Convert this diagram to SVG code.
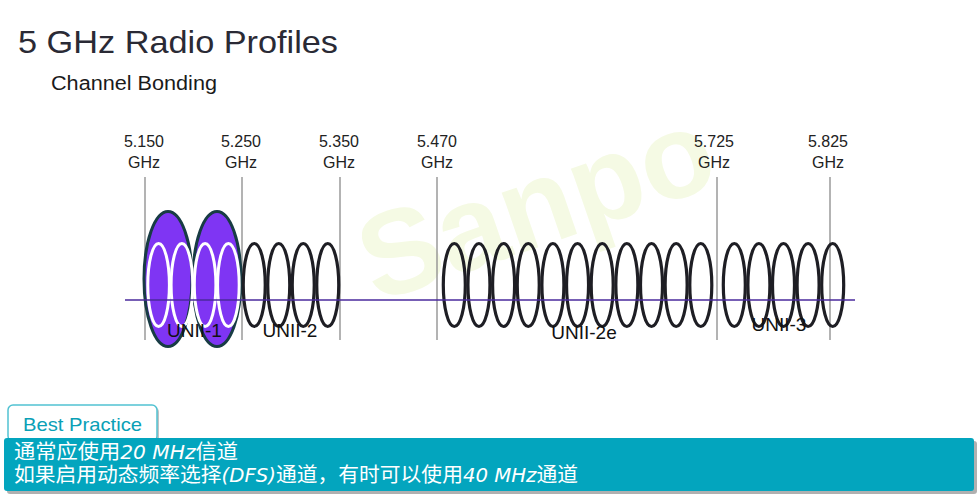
<svg xmlns="http://www.w3.org/2000/svg" width="980" height="502" viewBox="0 0 980 502">
<style>
.freq{font-family:"Liberation Sans",Arial,sans-serif;font-size:16px;fill:#222;text-anchor:middle}
.band{font-family:"Liberation Sans",Arial,sans-serif;font-size:19px;fill:#111;text-anchor:middle}
.vline{stroke:#8a8a8a;stroke-width:1.3}
.ch{fill:none;stroke:#1e1e24;stroke-width:3.2}
.chw{fill:none;stroke:#ffffff;stroke-width:3}
.big{fill:#7f35f3;stroke:#183c44;stroke-width:3}
.cn{font-family:"Liberation Sans","Noto Sans CJK SC",sans-serif;font-size:20px;fill:#ffffff}
.lat{font-family:"DejaVu Sans","Noto Sans",sans-serif;font-style:italic;font-size:19px}
</style>
<rect width="980" height="502" fill="#ffffff"/>
<text x="376" y="303" transform="rotate(-19 376 303)" font-family="Liberation Sans,Arial,sans-serif" font-weight="bold" font-size="120" fill="#f5fae4">Sanpo</text>
<g id="title">
<text x="18" y="53" font-family="Liberation Sans,Arial,sans-serif" font-size="32" fill="#2a2a35" textLength="320" lengthAdjust="spacingAndGlyphs">5 GHz Radio Profiles</text>
<text x="51" y="90" font-family="Liberation Sans,Arial,sans-serif" font-size="20" fill="#1a1a1a" textLength="166" lengthAdjust="spacingAndGlyphs">Channel Bonding</text>
</g>
<g id="connectors">
<line class="vline" x1="145" y1="177" x2="145" y2="340"/>
<line class="vline" x1="242" y1="177" x2="242" y2="340"/>
<line class="vline" x1="340" y1="177" x2="340" y2="340"/>
<line class="vline" x1="437" y1="177" x2="437" y2="340"/>
<line class="vline" x1="717" y1="177" x2="717" y2="340"/>
<line class="vline" x1="830" y1="177" x2="830" y2="340"/>
</g>
<g id="freq-labels">
<text class="freq" x="144" y="147">5.150</text><text class="freq" x="144" y="168">GHz</text>
<text class="freq" x="241" y="147">5.250</text><text class="freq" x="241" y="168">GHz</text>
<text class="freq" x="339" y="147">5.350</text><text class="freq" x="339" y="168">GHz</text>
<text class="freq" x="437" y="147">5.470</text><text class="freq" x="437" y="168">GHz</text>
<text class="freq" x="714" y="147">5.725</text><text class="freq" x="714" y="168">GHz</text>
<text class="freq" x="828" y="147">5.825</text><text class="freq" x="828" y="168">GHz</text>
</g>
<g id="unii-1">
<ellipse class="big" cx="168" cy="279" rx="24" ry="67.5"/>
<ellipse class="big" cx="217" cy="279" rx="24" ry="67.5"/>
<ellipse class="chw" cx="158.6" cy="285" rx="10.8" ry="41.5"/>
<ellipse class="chw" cx="181.9" cy="285" rx="10.8" ry="41.5"/>
<ellipse class="chw" cx="205.1" cy="285" rx="10.8" ry="41.5"/>
<ellipse class="chw" cx="228.4" cy="285" rx="10.8" ry="41.5"/>
</g>
<g id="unii-2">
<ellipse class="ch" cx="254.25" cy="285" rx="11" ry="41.5"/>
<ellipse class="ch" cx="278.75" cy="285" rx="11" ry="41.5"/>
<ellipse class="ch" cx="303.25" cy="285" rx="11" ry="41.5"/>
<ellipse class="ch" cx="327.75" cy="285" rx="11" ry="41.5"/>
</g>
<g id="unii-2e">
<ellipse class="ch" cx="454.3" cy="285" rx="11" ry="41.5"/>
<ellipse class="ch" cx="478.95" cy="285" rx="11" ry="41.5"/>
<ellipse class="ch" cx="503.6" cy="285" rx="11" ry="41.5"/>
<ellipse class="ch" cx="528.25" cy="285" rx="11" ry="41.5"/>
<ellipse class="ch" cx="552.9" cy="285" rx="11" ry="41.5"/>
<ellipse class="ch" cx="577.55" cy="285" rx="11" ry="41.5"/>
<ellipse class="ch" cx="602.2" cy="285" rx="11" ry="41.5"/>
<ellipse class="ch" cx="626.85" cy="285" rx="11" ry="41.5"/>
<ellipse class="ch" cx="651.5" cy="285" rx="11" ry="41.5"/>
<ellipse class="ch" cx="676.15" cy="285" rx="11" ry="41.5"/>
<ellipse class="ch" cx="700.8" cy="285" rx="11" ry="41.5"/>
</g>
<g id="unii-3">
<ellipse class="ch" cx="734.3" cy="285" rx="11" ry="41.5"/>
<ellipse class="ch" cx="758.9" cy="285" rx="11" ry="41.5"/>
<ellipse class="ch" cx="783.5" cy="285" rx="11" ry="41.5"/>
<ellipse class="ch" cx="808.1" cy="285" rx="11" ry="41.5"/>
<ellipse class="ch" cx="832.7" cy="285" rx="11" ry="41.5"/>
</g>
<g id="axis">
<line x1="125" y1="300" x2="855" y2="300" stroke="#4a2a9c" stroke-width="1.5"/>
</g>
<g id="band-labels">
<text class="band" x="194.5" y="337">UNII-1</text>
<text class="band" x="290" y="337">UNII-2</text>
<text class="band" x="584" y="339">UNII-2e</text>
<text class="band" x="779" y="331">UNII-3</text>
</g>
<g id="best-practice-tab">
<rect x="10" y="407" width="149" height="36" rx="5" fill="#9a9a9a" opacity="0.6"/>
<rect x="8" y="405" width="149" height="36" rx="5" fill="#ffffff" stroke="#52c2d2" stroke-width="1.5"/>
<text x="23" y="431" font-family="Liberation Sans,Arial,sans-serif" font-size="19" fill="#0aa0b6" textLength="119" lengthAdjust="spacingAndGlyphs">Best Practice</text>
</g>
<g id="best-practice-body">
<rect x="7" y="441" width="970" height="53" rx="3" fill="#8f8f8f" opacity="0.7"/>
<rect x="4" y="438" width="970" height="53" rx="3" fill="#03a5be"/>
<text class="cn" x="14" y="459" textLength="224" lengthAdjust="spacingAndGlyphs">通常应使用<tspan class="lat">20 MHz</tspan>信道</text>
<text class="cn" x="14" y="482" textLength="564" lengthAdjust="spacingAndGlyphs">如果启用动态频率选择<tspan class="lat">(DFS)</tspan>通道，有时可以使用<tspan class="lat">40 MHz</tspan>通道</text>
</g>
</svg>
